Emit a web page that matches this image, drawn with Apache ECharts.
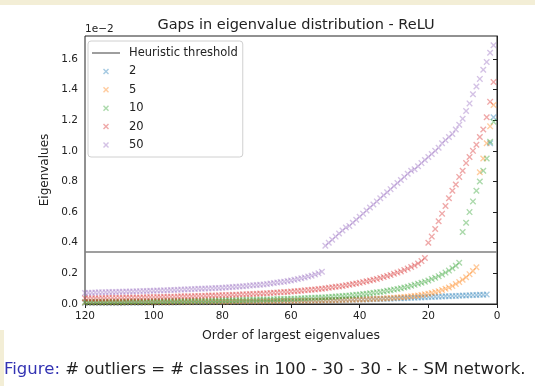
<!DOCTYPE html>
<html>
<head>
<meta charset="utf-8">
<script src="https://cdn.jsdelivr.net/npm/echarts@6/dist/echarts.min.js"></script>
<style>
  html, body { margin: 0; padding: 0; background: #fff; }
  #chart { width: 535px; height: 386px; }
</style>
</head>
<body>
<div id="chart"></div>
<script>
// eigenvalues (units of 1e-2), index 0 = largest eigenvalue (order 1) ... index 119 = order 120
const classCounts = ['2', '5', '10', '20', '50'];
const threshold = 0.34;
const xTicks = [0, 20, 40, 60, 80, 100, 120];

const eig2 = [
  1.22, 1.05, 0.062, 0.061, 0.060, 0.059, 0.058, 0.057, 0.056, 0.055,
  0.054, 0.053, 0.052, 0.051, 0.050, 0.049, 0.048, 0.047, 0.046, 0.045,
  0.044, 0.043, 0.042, 0.041, 0.040, 0.039, 0.038, 0.037, 0.037, 0.036,
  0.035, 0.034, 0.034, 0.033, 0.032, 0.032, 0.031, 0.030, 0.030, 0.029,
  0.029, 0.028, 0.027, 0.027, 0.026, 0.026, 0.025, 0.025, 0.024, 0.024,
  0.023, 0.023, 0.022, 0.022, 0.021, 0.021, 0.021, 0.020, 0.020, 0.019,
  0.019, 0.019, 0.018, 0.018, 0.018, 0.017, 0.017, 0.017, 0.016, 0.016,
  0.016, 0.015, 0.015, 0.015, 0.015, 0.014, 0.014, 0.014, 0.014, 0.013,
  0.013, 0.013, 0.013, 0.012, 0.012, 0.012, 0.012, 0.011, 0.011, 0.011,
  0.011, 0.011, 0.010, 0.010, 0.010, 0.010, 0.010, 0.009, 0.009, 0.009,
  0.009, 0.009, 0.008, 0.008, 0.008, 0.008, 0.008, 0.008, 0.007, 0.007,
  0.007, 0.007, 0.007, 0.007, 0.006, 0.006, 0.006, 0.006, 0.006, 0.006
];
const eig5 = [
  1.30, 1.16, 1.05, 0.95, 0.86, 0.240, 0.215, 0.195, 0.175, 0.158,
  0.143, 0.130, 0.118, 0.108, 0.099, 0.091, 0.084, 0.078, 0.072, 0.067,
  0.063, 0.059, 0.056, 0.053, 0.050, 0.048, 0.046, 0.044, 0.042, 0.040,
  0.039, 0.037, 0.036, 0.035, 0.034, 0.033, 0.032, 0.031, 0.030, 0.030,
  0.029, 0.028, 0.028, 0.027, 0.026, 0.026, 0.025, 0.025, 0.024, 0.024,
  0.023, 0.023, 0.022, 0.022, 0.022, 0.021, 0.021, 0.021, 0.020, 0.020,
  0.020, 0.019, 0.019, 0.019, 0.018, 0.018, 0.018, 0.018, 0.017, 0.017,
  0.017, 0.017, 0.016, 0.016, 0.016, 0.016, 0.016, 0.015, 0.015, 0.015,
  0.015, 0.015, 0.014, 0.014, 0.014, 0.014, 0.014, 0.014, 0.013, 0.013,
  0.013, 0.013, 0.013, 0.013, 0.012, 0.012, 0.012, 0.012, 0.012, 0.012,
  0.012, 0.011, 0.011, 0.011, 0.011, 0.011, 0.011, 0.011, 0.010, 0.010,
  0.010, 0.010, 0.010, 0.010, 0.010, 0.009, 0.009, 0.009, 0.009, 0.009
];
const eig10 = [
  1.19, 1.06, 0.95, 0.87, 0.80, 0.74, 0.67, 0.60, 0.53, 0.47,
  0.270, 0.250, 0.233, 0.218, 0.205, 0.193, 0.182, 0.172, 0.163, 0.154,
  0.146, 0.139, 0.132, 0.125, 0.119, 0.113, 0.108, 0.103, 0.098, 0.094,
  0.090, 0.086, 0.082, 0.079, 0.076, 0.073, 0.070, 0.067, 0.065, 0.062,
  0.060, 0.058, 0.056, 0.054, 0.052, 0.050, 0.049, 0.047, 0.046, 0.044,
  0.043, 0.042, 0.041, 0.040, 0.039, 0.038, 0.037, 0.036, 0.035, 0.034,
  0.034, 0.033, 0.032, 0.032, 0.031, 0.030, 0.030, 0.029, 0.029, 0.028,
  0.028, 0.027, 0.027, 0.026, 0.026, 0.025, 0.025, 0.025, 0.024, 0.024,
  0.023, 0.023, 0.023, 0.022, 0.022, 0.022, 0.021, 0.021, 0.021, 0.020,
  0.020, 0.020, 0.019, 0.019, 0.019, 0.019, 0.018, 0.018, 0.018, 0.018,
  0.017, 0.017, 0.017, 0.017, 0.016, 0.016, 0.016, 0.016, 0.015, 0.015,
  0.015, 0.015, 0.015, 0.014, 0.014, 0.014, 0.014, 0.014, 0.013, 0.013
];
const eig20 = [
  1.45, 1.32, 1.22, 1.14, 1.09, 1.04, 1.00, 0.96, 0.92, 0.87,
  0.83, 0.78, 0.74, 0.69, 0.64, 0.59, 0.54, 0.49, 0.44, 0.40,
  0.300, 0.280, 0.265, 0.252, 0.241, 0.231, 0.222, 0.213, 0.205, 0.197,
  0.190, 0.183, 0.176, 0.170, 0.164, 0.158, 0.153, 0.148, 0.143, 0.138,
  0.134, 0.130, 0.126, 0.122, 0.118, 0.115, 0.112, 0.109, 0.106, 0.103,
  0.100, 0.098, 0.095, 0.093, 0.091, 0.089, 0.087, 0.085, 0.083, 0.081,
  0.079, 0.078, 0.076, 0.075, 0.073, 0.072, 0.071, 0.069, 0.068, 0.067,
  0.066, 0.065, 0.064, 0.063, 0.062, 0.061, 0.060, 0.059, 0.058, 0.058,
  0.057, 0.056, 0.055, 0.055, 0.054, 0.053, 0.053, 0.052, 0.051, 0.051,
  0.050, 0.050, 0.049, 0.048, 0.048, 0.047, 0.047, 0.046, 0.046, 0.045,
  0.045, 0.044, 0.044, 0.043, 0.043, 0.042, 0.042, 0.042, 0.041, 0.041,
  0.040, 0.040, 0.040, 0.039, 0.039, 0.038, 0.038, 0.038, 0.037, 0.037
];
const eig50 = [
  1.69, 1.64, 1.58, 1.53, 1.47, 1.42, 1.37, 1.31, 1.26, 1.21,
  1.17, 1.14, 1.11, 1.09, 1.07, 1.05, 1.02, 1.00, 0.98, 0.96,
  0.94, 0.92, 0.90, 0.88, 0.87, 0.85, 0.83, 0.81, 0.79, 0.77,
  0.75, 0.73, 0.71, 0.69, 0.67, 0.65, 0.63, 0.61, 0.59, 0.57,
  0.55, 0.53, 0.51, 0.50, 0.48, 0.46, 0.44, 0.42, 0.40, 0.38,
  0.210, 0.200, 0.192, 0.185, 0.179, 0.173, 0.168, 0.163, 0.158, 0.154,
  0.150, 0.146, 0.143, 0.140, 0.137, 0.134, 0.131, 0.128, 0.126, 0.124,
  0.122, 0.120, 0.118, 0.116, 0.114, 0.112, 0.111, 0.109, 0.108, 0.106,
  0.105, 0.104, 0.103, 0.102, 0.101, 0.100, 0.099, 0.098, 0.097, 0.096,
  0.095, 0.094, 0.093, 0.092, 0.091, 0.090, 0.089, 0.088, 0.088, 0.087,
  0.086, 0.085, 0.085, 0.084, 0.083, 0.082, 0.082, 0.081, 0.080, 0.080,
  0.079, 0.078, 0.078, 0.077, 0.076, 0.076, 0.075, 0.074, 0.073, 0.072
];

const allEig = [eig2, eig5, eig10, eig20, eig50];
const colors = ['#1f77b4', '#ff7f0e', '#2ca02c', '#d62728', '#9467bd'];

// filled "x" marker
const xMark = 'path://M0,1.5L1.5,0L5,3.5L8.5,0L10,1.5L6.5,5L10,8.5L8.5,10L5,6.5L1.5,10L0,8.5L3.5,5Z';
// same marker / a short line, padded into the legend icon box (28x14)
const xLegend = 'path://M0,0ZM28,14ZM11,5L12,4L14,6L16,4L17,5L15,7L17,9L16,10L14,8L12,10L11,9L13,7Z';
const lineLegend = 'path://M0,0ZM28,14ZM0,6.2L28,6.2L28,7.8L0,7.8Z';

const font = 'DejaVu Sans';
const chart = echarts.init(document.getElementById('chart'), null, { renderer: 'canvas' });

const series = [{
  name: 'Heuristic threshold',
  type: 'line',
  symbol: 'none',
  data: [[xTicks[0], threshold], [xTicks[xTicks.length - 1], threshold]],
  lineStyle: { color: '#7f7f7f', width: 1.6 },
  itemStyle: { color: '#7f7f7f' },
  z: 1,
  silent: true
}];
allEig.forEach(function (vals, k) {
  series.push({
    name: classCounts[k],
    type: 'scatter',
    symbol: xMark,
    symbolSize: 6.5,
    data: vals.map(function (v, i) { return [i + 1, v]; }),
    itemStyle: { color: colors[k], opacity: 0.4 },
    z: 2 + k,
    silent: true
  });
});

chart.setOption({
  animation: false,
  backgroundColor: '#fff',
  title: {
    text: 'Gaps in eigenvalue distribution - ReLU',
    left: 291, top: 13, textAlign: 'center',
    textStyle: { fontFamily: font, fontSize: 14.5, fontWeight: 'normal', color: '#222' }
  },
  legend: {
    orient: 'vertical',
    left: 88, top: 41,
    padding: [5, 5, 5, 4],
    itemWidth: 28, itemHeight: 14, itemGap: 4.4,
    backgroundColor: 'rgba(255,255,255,0.85)',
    borderColor: '#d0d0d0', borderWidth: 1, borderRadius: 3,
    textStyle: { fontFamily: font, fontSize: 11.5, color: '#222', padding: [0, 0, 0, 4] },
    data: [{ name: 'Heuristic threshold', icon: lineLegend, itemStyle: { color: '#7f7f7f', opacity: 1 } }]
      .concat(classCounts.map(function (c, k) {
        return { name: c, icon: xLegend, itemStyle: { color: colors[k], opacity: 0.4 } };
      }))
  },
  grid: { left: 85, right: 38, top: 36, bottom: 82, show: true, borderColor: '#222', borderWidth: 1 },
  xAxis: {
    type: 'value', inverse: true, min: 0, max: 120, interval: 20,
    name: 'Order of largest eigenvalues', nameLocation: 'middle', nameGap: 25,
    nameTextStyle: { fontFamily: font, fontSize: 12.5, color: '#222' },
    axisLine: { lineStyle: { color: '#222' } },
    axisTick: { length: 4, lineStyle: { color: '#222' } },
    axisLabel: { fontFamily: font, fontSize: 10.5, color: '#222', margin: 7 },
    splitLine: { show: false }
  },
  yAxis: {
    type: 'value', min: 0, max: 1.75, interval: 0.2,
    name: 'Eigenvalues', nameLocation: 'middle', nameGap: 29,
    nameTextStyle: { fontFamily: font, fontSize: 12, color: '#222' },
    axisLine: { show: true, lineStyle: { color: '#222' } },
    axisTick: { show: true, length: 4, lineStyle: { color: '#222' } },
    axisLabel: {
      fontFamily: font, fontSize: 10.5, color: '#222', margin: 7, showMaxLabel: false,
      formatter: function (v) { return v.toFixed(1); }
    },
    splitLine: { show: false }
  },
  graphic: [
    { type: 'rect', left: 0, top: 0, shape: { width: 535, height: 5 }, style: { fill: '#f3eed6' }, silent: true },
    { type: 'rect', left: 0, top: 330, shape: { width: 4, height: 56 }, style: { fill: '#f3eed6' }, silent: true },
    { type: 'text', left: 85, top: 24, style: { text: '1e\u22122', fontFamily: font, fontSize: 10.5, fill: '#222' } },
    {
      type: 'text', left: 4, top: 361,
      style: {
        text: '{b|Figure:} # outliers = # classes in 100 - 30 - 30 - k - SM network.',
        fontFamily: font, fontSize: 16.5, fill: '#222',
        rich: { b: { fill: '#3333b3', fontFamily: font, fontSize: 16.5 } }
      }
    }
  ],
  series: series
});
</script>
</body>
</html>
